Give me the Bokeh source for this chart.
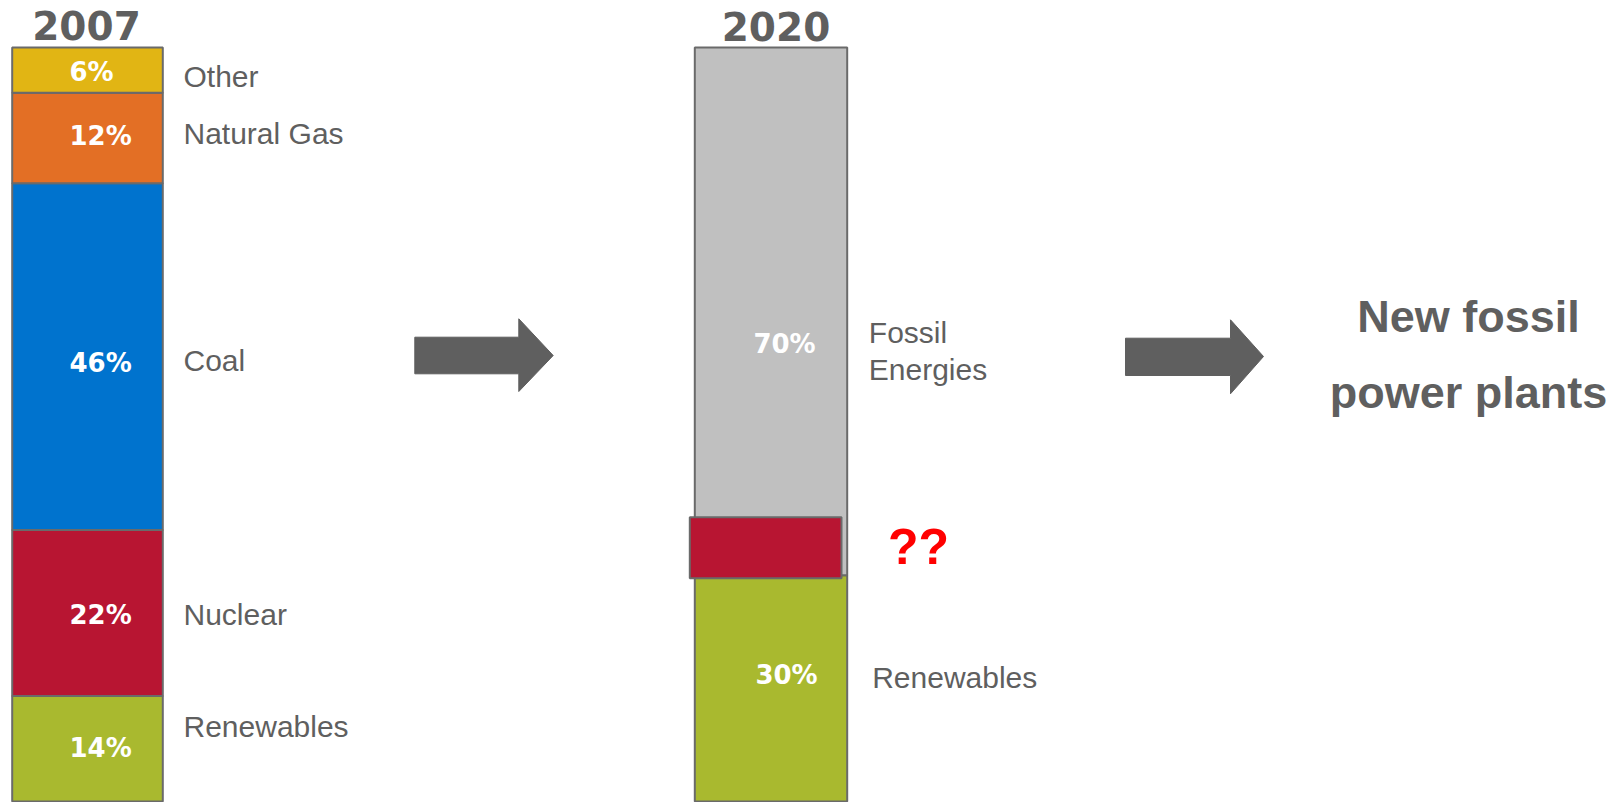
from bokeh.plotting import figure
from bokeh.models import Range1d, ColumnDataSource
from bokeh.core.properties import value
from bokeh.embed import file_html
from bokeh.resources import INLINE

# ---------------- data ----------------
cats_2007 = ["Renewables", "Nuclear", "Coal", "Natural Gas", "Other"]
vals_2007 = [14, 22, 46, 12, 6]
cols_2007 = ["#A9B92F", "#B81532", "#0073CE", "#E36F25", "#E1B514"]

cats_2020 = ["Renewables", "Fossil Energies"]
vals_2020 = [30, 70]
cols_2020 = ["#A9B92F", "#C0C0C0"]

nuclear_2020_range = [29.6, 37.7]   # the uncertain "??" block
years = ["2007", "2020"]
conclusion = ["New fossil", "power plants"]

# ---------------- layout helpers ----------------
PX_PER_PCT = 7.54
def py(y):  # reference pixel row -> value scale
    return (801 - y) / PX_PER_PCT

TXT = "#5F5F5F"
EDGE = "#6A6A6A"

p = figure(width=1621, height=802, x_range=Range1d(0, 1621),
           y_range=Range1d(py(802), py(0)), output_backend="svg",
           toolbar_location=None, min_border=0,
           x_axis_location=None, y_axis_location=None)
p.grid.visible = False
p.outline_line_color = None
p.background_fill_color = "white"

def stack(vals):
    bottoms, tops, acc = [], [], 0
    for v in vals:
        bottoms.append(acc)
        acc += v
        tops.append(acc)
    return bottoms, tops

# 2007 bar
b07, t07 = stack(vals_2007)
src07 = ColumnDataSource(dict(left=[11.7] * 5, right=[162.3] * 5, bottom=b07, top=t07,
                              color=cols_2007))
p.quad(left="left", right="right", bottom="bottom", top="top", source=src07,
       fill_color="color", line_color=EDGE, line_width=2)

# 2020 bar
b20, t20 = stack(vals_2020)
src20 = ColumnDataSource(dict(left=[694.3] * 2, right=[846.7] * 2, bottom=b20, top=t20,
                              color=cols_2020))
p.quad(left="left", right="right", bottom="bottom", top="top", source=src20,
       fill_color="color", line_color=EDGE, line_width=2)

# uncertain nuclear block
p.quad(left=[689.3], right=[841.0], bottom=[nuclear_2020_range[0]],
       top=[nuclear_2020_range[1]], fill_color="#B81532", line_color=EDGE, line_width=2)

# percentage labels 2007
mid07 = [(b + t) / 2 for b, t in zip(b07, t07)]
pct_off = [0.1, -0.2, -0.8, 0.3, -0.2]
p.text(x=[69] * 5, y=[m + o for m, o in zip(mid07, pct_off)],
       text=[f"{v}%" for v in vals_2007],
       text_color="white", text_font=value("DejaVu Sans"), text_font_style="bold",
       text_font_size="26px", text_align="left", text_baseline="middle")

# category labels 2007
cat_off = [2.95, -0.2, -0.5, 0.6, -0.8]
p.text(x=[183] * 5, y=[m + o for m, o in zip(mid07, cat_off)], text=cats_2007,
       text_color=TXT, text_font=value("Liberation Sans"),
       text_font_size="30px", text_align="left", text_baseline="middle")

# percentage labels 2020
p.text(x=[786, 784], y=[py(674), py(343)], text=[f"{v}%" for v in vals_2020],
       text_color="white", text_font=value("DejaVu Sans"), text_font_style="bold",
       text_font_size="26px", text_align="center", text_baseline="middle")

# category labels 2020
p.text(x=[871.7, 868.3, 868.3], y=[py(677), py(331.7), py(369)],
       text=["Renewables", "Fossil", "Energies"],
       text_color=TXT, text_font=value("Liberation Sans"),
       text_font_size="30px", text_align="left", text_baseline="middle")

# ?? marker
p.text(x=[918], y=[py(546)], text=["??"], text_color="#FF0000",
       text_font=value("Liberation Sans"), text_font_style="bold",
       text_font_size="50px", text_align="center", text_baseline="middle")

# year titles
p.text(x=[86, 775.5], y=[py(25), py(25.5)], text=years, text_color=TXT,
       text_font=value("DejaVu Sans"), text_font_style="bold",
       text_font_size="39px", text_align="center", text_baseline="middle")

# conclusion text
p.text(x=[1468, 1468], y=[py(315.5), py(391.5)], text=conclusion, text_color=TXT,
       text_font=value("Liberation Sans"), text_font_style="bold",
       text_font_size="45px", text_align="center", text_baseline="middle")

# arrows
def arrow(x0, xb, xt, ys0, ys1, yh0, yh1, ytip):
    xs = [x0, xb, xb, xt, xb, xb, x0]
    ys = [py(ys0), py(ys0), py(yh0), py(ytip), py(yh1), py(ys1), py(ys1)]
    p.patch(xs, ys, fill_color="#5F5F5F", line_color="#5F5F5F", line_width=1)

arrow(414.3, 518.3, 552.7, 336.7, 373.3, 318.3, 391.0, 355.0)
arrow(1125.0, 1230.0, 1263.0, 337.7, 375.0, 319.3, 393.3, 356.0)

open("out.html", "w").write(file_html(p, INLINE))
